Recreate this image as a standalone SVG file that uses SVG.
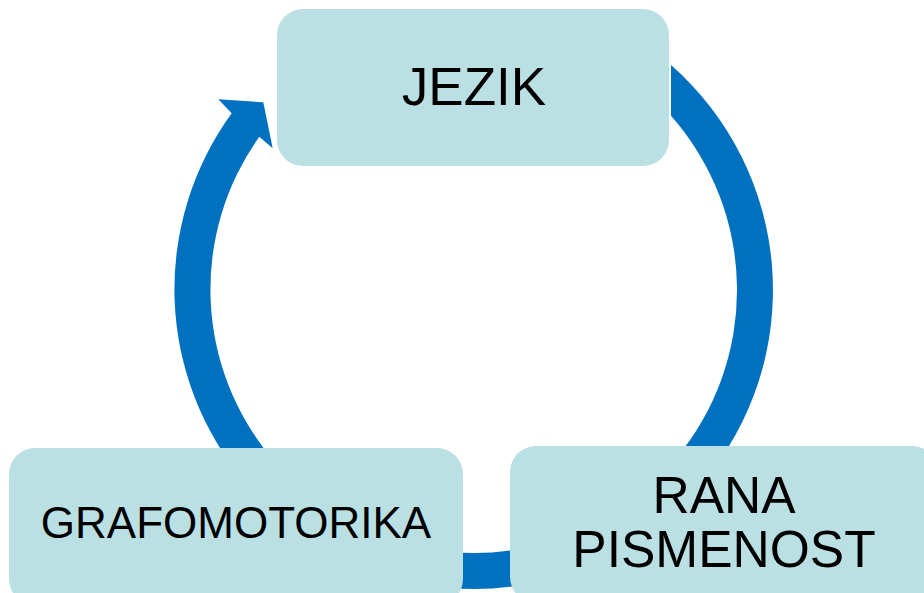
<svg xmlns="http://www.w3.org/2000/svg" width="924" height="593" viewBox="0 0 924 593">
  <style>
    .box { fill: #BBE0E3; }
    .ring { fill: #0070C0; }
    .lbl { font-family: "Liberation Sans", Arial, sans-serif; fill: #000000; text-anchor: middle; }
  </style>
  <rect width="924" height="593" fill="#FFFFFF"/>
  <g id="connectors">
    <path class="ring" d="M 671 65.1 A 299 299 0 0 1 703 482.2 L 675.5 459.1 A 263 263 0 0 0 671 115.8 Z"/>
    <path class="ring" d="M 525.9 584.5 A 299 299 0 0 1 422.1 584.5 L 428.3 549 A 263 263 0 0 0 519.7 549 Z"/>
    <path class="ring" d="M 245 482.2 A 299 299 0 0 1 231.7 113.3 L 218.3 99.3 L 263.3 102.3 L 272.7 148.3 L 259.3 136.7 A 263 263 0 0 0 272.5 459.1 Z"/>
  </g>
  <g id="node-jezik">
    <rect class="box" x="277" y="9" width="392" height="157" rx="26" ry="26"/>
    <text class="lbl" x="474" y="105" font-size="53">JEZIK</text>
  </g>
  <g id="node-rana-pismenost">
    <rect class="box" x="510" y="446" width="428" height="157" rx="26" ry="26"/>
    <text class="lbl" x="724" y="513" font-size="51.5">RANA</text>
    <text class="lbl" x="724" y="567" font-size="51.5">PISMENOST</text>
  </g>
  <g id="node-grafomotorika">
    <rect class="box" x="9" y="448" width="454" height="157" rx="26" ry="26"/>
    <text class="lbl" x="236" y="538" font-size="44">GRAFOMOTORIKA</text>
  </g>
</svg>
